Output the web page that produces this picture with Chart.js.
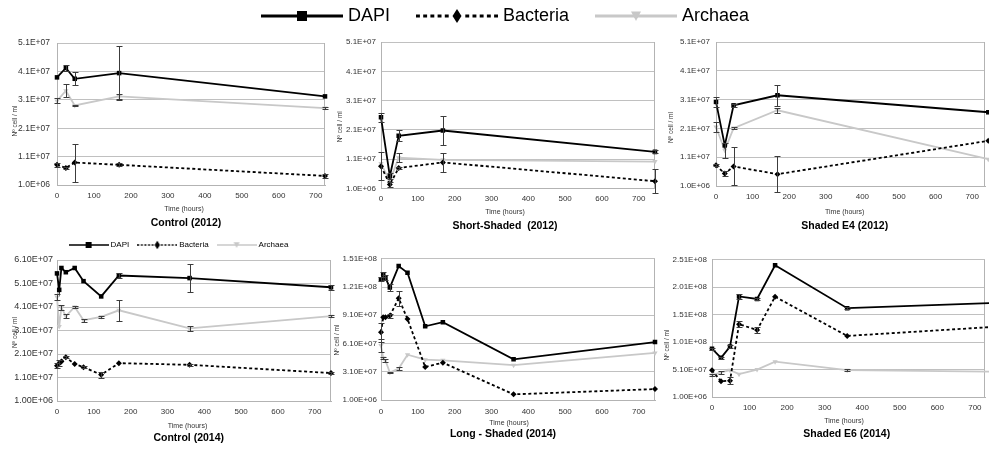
<!DOCTYPE html>
<html><head><meta charset="utf-8">
<script src="https://cdn.jsdelivr.net/npm/chart.js@4.4.1/dist/chart.umd.min.js"></script>
<style>
html,body{margin:0;padding:0;background:#fff;width:989px;height:452px;overflow:hidden;position:relative;}
canvas{position:absolute;}
</style></head><body>
<canvas id="legendTop"></canvas>
<canvas id="legendD"></canvas>
<canvas id="pA"></canvas><canvas id="pB"></canvas><canvas id="pC"></canvas>
<canvas id="pD"></canvas><canvas id="pE"></canvas><canvas id="pF"></canvas>
<script>
// ---------------- DATA ----------------
const seriesNames = ['DAPI', 'Bacteria', 'Archaea'];
const panelTitles = ['Control (2012)', 'Short-Shaded  (2012)', 'Shaded E4 (2012)',
                     'Control (2014)', 'Long - Shaded (2014)', 'Shaded E6 (2014)'];
const xAxisTitle = 'Time (hours)';
const yAxisTitle = 'Nº cell / ml';

const xTickVals = [0, 100, 200, 300, 400, 500, 600, 700];
const xTickLabels = ['0', '100', '200', '300', '400', '500', '600', '700'];
const yTickVals2012 = [1e6, 1.1e7, 2.1e7, 3.1e7, 4.1e7, 5.1e7];
const yTickLabels2012 = ['1.0E+06', '1.1E+07', '2.1E+07', '3.1E+07', '4.1E+07', '5.1E+07'];
const yTickValsCtl14 = [1e6, 1.1e7, 2.1e7, 3.1e7, 4.1e7, 5.1e7, 6.1e7];
const yTickLabelsCtl14 = ['1.00E+06', '1.10E+07', '2.10E+07', '3.10E+07', '4.10E+07', '5.10E+07', '6.10E+07'];
const yTickValsLS14 = [1e6, 3.1e7, 6.1e7, 9.1e7, 1.21e8, 1.51e8];
const yTickLabelsLS14 = ['1.00E+06', '3.10E+07', '6.10E+07', '9.10E+07', '1.21E+08', '1.51E+08'];
const yTickValsE6 = [1e6, 5.1e7, 1.01e8, 1.51e8, 2.01e8, 2.51e8];
const yTickLabelsE6 = ['1.00E+06', '5.10E+07', '1.01E+08', '1.51E+08', '2.01E+08', '2.51E+08'];

// Control (2012)
const hoursCtl12 = [0, 24, 48, 168, 725];
const dapiCtl12 = [3.89e7, 4.22e7, 3.84e7, 4.04e7, 3.22e7];
const dapiCtl12Err = [0, 1.0e6, 2.3e6, 9.6e6, 0];
const bactCtl12 = [8.1e6, 7.0e6, 8.9e6, 8.1e6, 4.2e6];
const bactCtl12Err = [6e5, 5e5, 6.7e6, 5e5, 8e5];
const archCtl12 = [3.06e7, 3.42e7, 2.9e7, 3.22e7, 2.81e7];
const archCtl12Err = [9e5, 2.3e6, 3e5, 1e6, 3e5];

// Short-Shaded (2012)
const hoursSS12 = [0, 24, 48, 168, 744];
const dapiSS12 = [2.53e7, 5.2e6, 1.9e7, 2.08e7, 1.35e7];
const dapiSS12Err = [1.6e6, 1e6, 1.9e6, 4.9e6, 5e5];
const bactSS12 = [8.6e6, 2.4e6, 8.0e6, 9.9e6, 3.5e6];
const bactSS12Err = [4.8e6, 8e5, 5e5, 3.2e6, 4e6];
const archSS12 = [9.5e6, 3.5e6, 1.15e7, 1.08e7, 1.02e7];
const archSS12Err = [0, 0, 1.5e6, 0, 0];

// Shaded E4 (2012)
const hoursE4 = [0, 24, 48, 168, 744];
const dapiE4 = [3.02e7, 1.51e7, 2.9e7, 3.25e7, 2.66e7];
const dapiE4Err = [1.6e6, 0, 5e5, 3.6e6, 0];
const bactE4 = [8.2e6, 5.3e6, 7.8e6, 5.1e6, 1.67e7];
const bactE4Err = [3e5, 8e5, 6.6e6, 6.2e6, 0];
const archE4 = [2.15e7, 1.34e7, 2.11e7, 2.73e7, 1.03e7];
const archE4Err = [1.8e6, 2.7e6, 3e5, 8e5, 8e5];

// Control (2014)
const hoursCtl14 = [0, 6, 12, 24, 48, 72, 120, 168, 360, 744];
const dapiCtl14 = [5.53e7, 4.83e7, 5.76e7, 5.58e7, 5.76e7, 5.2e7, 4.55e7, 5.44e7, 5.33e7, 4.94e7];
const dapiCtl14Err = [0, 0, 0, 0, 0, 0, 0, 1.2e6, 6.1e6, 1e6];
const bactCtl14 = [1.6e7, 1.7e7, 1.78e7, 1.96e7, 1.67e7, 1.54e7, 1.22e7, 1.71e7, 1.64e7, 1.29e7];
const bactCtl14Err = [1e6, 1.3e6, 0, 5e5, 0, 5e5, 1.2e6, 0, 5e5, 5e5];
const archCtl14 = [4.53e7, 3.27e7, 4.08e7, 3.71e7, 4.1e7, 3.54e7, 3.68e7, 3.96e7, 3.19e7, 3.71e7];
const archCtl14Err = [1.3e6, 0, 1.2e6, 8e5, 5e5, 7e5, 5e5, 4.4e6, 1.2e6, 3e5];

// Long - Shaded (2014)
const hoursLS14 = [0, 6, 12, 24, 48, 72, 120, 168, 360, 744];
const dapiLS14 = [1.292e8, 1.345e8, 1.31e8, 1.204e8, 1.433e8, 1.362e8, 7.93e7, 8.36e7, 4.42e7, 6.25e7];
const dapiLS14Err = [2e6, 3e6, 3e6, 4e6, 0, 0, 0, 0, 0, 0];
const bactLS14 = [7.3e7, 8.88e7, 8.88e7, 9.05e7, 1.09e8, 8.7e7, 3.61e7, 4.07e7, 7e6, 1.26e7];
const bactLS14Err = [1e7, 0, 0, 2e6, 7.7e6, 0, 0, 0, 0, 0];
const archLS14 = [5.9e7, 4.56e7, 4.3e7, 3.02e7, 3.44e7, 4.91e7, 4.38e7, 4.32e7, 3.8e7, 5.1e7];
const archLS14Err = [7e6, 1.5e6, 1.5e6, 1e6, 2e6, 0, 0, 0, 0, 0];

// Shaded E6 (2014)
const hoursE6 = [0, 24, 48, 72, 120, 168, 360, 744];
const dapiE6 = [8.9e7, 7.24e7, 9.3e7, 1.843e8, 1.796e8, 2.41e8, 1.629e8, 1.722e8];
const dapiE6Err = [2e6, 2e6, 2e6, 4e6, 2e6, 0, 2e6, 0];
const bactE6 = [4.98e7, 2.96e7, 3.08e7, 1.337e8, 1.23e8, 1.837e8, 1.123e8, 1.285e8];
const bactE6Err = [0, 0, 6e6, 6e6, 5e6, 0, 0, 0];
const archE6 = [4.09e7, 4.57e7, 4.98e7, 4.26e7, 5.1e7, 6.53e7, 4.98e7, 4.72e7];
const archE6Err = [2e6, 3e6, 0, 0, 0, 0, 2e6, 0];

// ---------------- STYLE / HELPERS ----------------
const FAM = "'Liberation Sans', Arial, sans-serif";
const GRID = '#c0c0c0';
const AXIS = '#b3b3b3';
const ARCH_COL = '#c8c8c8';

function makeDatasets(hours, dapi, dapiErr, bact, bactErr, arch, archErr) {
  const pts = v => hours.map((h, i) => ({x: h, y: v[i]}));
  return [
    {label: seriesNames[0], data: pts(dapi), errors: dapiErr, borderColor: '#000', backgroundColor: '#000',
     borderWidth: 1.8, pointStyle: 'rect', pointRadius: 3.2, pointBorderWidth: 0, pointBackgroundColor: '#000', clip: 6},
    {label: seriesNames[1], data: pts(bact), errors: bactErr, borderColor: '#000', backgroundColor: '#000',
     borderDash: [3, 2.5], borderWidth: 1.8, pointStyle: 'rectRot', pointRadius: 3, pointBorderWidth: 0, pointBackgroundColor: '#000', clip: 6},
    {label: seriesNames[2], data: pts(arch), errors: archErr, borderColor: ARCH_COL, backgroundColor: ARCH_COL,
     borderWidth: 1.8, pointStyle: 'triangle', pointRotation: 180, pointRadius: 3, pointBorderWidth: 0, pointBackgroundColor: ARCH_COL, clip: 6}
  ];
}

const framePlugin = {
  id: 'frame',
  beforeDatasetsDraw(chart) {
    const {ctx, chartArea: a} = chart;
    ctx.save();
    ctx.strokeStyle = AXIS; ctx.lineWidth = 1;
    ctx.beginPath();
    ctx.moveTo(Math.round(a.right) - 0.5, a.top); ctx.lineTo(Math.round(a.right) - 0.5, a.bottom);
    ctx.stroke();
    ctx.restore();
  }
};

const errorBarPlugin = {
  id: 'errorBars',
  afterDatasetsDraw(chart) {
    const {ctx} = chart;
    const xS = chart.scales.x, yS = chart.scales.y;
    ctx.save();
    ctx.strokeStyle = '#3c3c3c'; ctx.lineWidth = 1;
    chart.data.datasets.forEach(ds => {
      if (!ds.errors) return;
      ds.data.forEach((p, i) => {
        const e = ds.errors[i];
        if (!e || p.x > xS.max) return;
        const x = Math.round(xS.getPixelForValue(p.x)) + 0.5;
        const y1 = Math.round(yS.getPixelForValue(p.y + e)) + 0.5;
        const y2 = Math.round(yS.getPixelForValue(p.y - e)) + 0.5;
        ctx.beginPath();
        ctx.moveTo(x, y1); ctx.lineTo(x, y2);
        ctx.moveTo(x - 3, y1); ctx.lineTo(x + 3, y1);
        ctx.moveTo(x - 3, y2); ctx.lineTo(x + 3, y2);
        ctx.stroke();
      });
    });
    ctx.restore();
  }
};

const panelTextPlugin = {
  id: 'panelText',
  afterDraw(chart, args, o) {
    const {ctx} = chart;
    ctx.save();
    ctx.textAlign = 'center'; ctx.textBaseline = 'middle';
    ctx.fillStyle = '#333';
    ctx.font = o.timeSize + 'px ' + FAM;
    ctx.fillText(xAxisTitle, o.timeX, o.timeY);
    ctx.fillStyle = '#000';
    ctx.font = 'bold ' + o.titleSize + 'px ' + FAM;
    ctx.fillText(o.title, o.titleX, o.titleY);
    ctx.translate(o.yTitleX, o.yTitleY);
    ctx.rotate(-Math.PI / 2);
    ctx.fillStyle = '#333';
    ctx.font = o.ySize + 'px ' + FAM;
    ctx.fillText(yAxisTitle, 0, 0);
    ctx.restore();
  }
};

function makePanel(id, p) {
  const el = document.getElementById(id);
  const xH = 40;
  const H = Math.round(p.area.b - p.box.top + 46);
  el.width = p.box.width; el.height = H;
  el.style.left = p.box.left + 'px'; el.style.top = p.box.top + 'px';
  const L = p.box.left, T = p.box.top;
  new Chart(el, {
    type: 'line',
    data: {datasets: p.datasets},
    options: {
      responsive: false, animation: false, devicePixelRatio: 1, events: [],
      layout: {padding: {left: 0, top: p.area.t - T, right: L + p.box.width - p.area.r,
                         bottom: H - (p.area.b - T) - xH}},
      plugins: {
        legend: {display: false}, tooltip: {enabled: false}, title: {display: false},
        panelText: {
          title: p.title, titleX: p.titleX - L, titleY: p.titleY - T, titleSize: 10.5,
          timeX: p.timeX - L, timeY: p.timeY - T, timeSize: 7,
          yTitleX: p.yTitleX - L, yTitleY: p.yTitleY - T, ySize: 6.5
        }
      },
      scales: {
        x: {
          type: 'linear', min: 0, max: p.xMax,
          afterBuildTicks: s => { s.ticks = xTickVals.map(v => ({value: v})); },
          afterFit: s => { s.height = xH; },
          grid: {display: false, drawTicks: false},
          border: {display: true, color: AXIS, width: 1},
          ticks: {autoSkip: false, maxRotation: 0, minRotation: 0, padding: p.xPad,
                  font: {family: FAM, size: 8}, color: '#333',
                  callback: v => xTickLabels[xTickVals.indexOf(v)]}
        },
        y: {
          type: 'linear', min: p.yVals[0], max: p.yVals[p.yVals.length - 1],
          afterBuildTicks: s => { s.ticks = p.yVals.map(v => ({value: v})); },
          afterFit: s => { s.width = p.area.l - L; },
          grid: {color: GRID, lineWidth: 1, drawTicks: false},
          border: {display: true, color: AXIS, width: 1},
          ticks: {autoSkip: false, padding: p.yPad, font: {family: FAM, size: p.yFont}, color: '#333',
                  callback: v => p.yLabels[p.yVals.indexOf(v)]}
        }
      }
    },
    plugins: [framePlugin, errorBarPlugin, panelTextPlugin]
  });
}

function swatch(kind, w, h, lw, m) {
  const c = document.createElement('canvas');
  c.width = w; c.height = h;
  const g = c.getContext('2d');
  const cy = h / 2, cx = w / 2;
  g.lineWidth = lw;
  if (kind === 0) {
    g.strokeStyle = '#000'; g.fillStyle = '#000';
    g.beginPath(); g.moveTo(0, cy); g.lineTo(w, cy); g.stroke();
    g.fillRect(cx - m / 2, cy - m / 2, m, m);
  } else if (kind === 1) {
    g.strokeStyle = '#000'; g.fillStyle = '#000';
    g.setLineDash([lw * 1.3, lw * 1.1]);
    g.beginPath(); g.moveTo(0, cy); g.lineTo(cx - m / 2, cy); g.moveTo(w, cy); g.lineTo(cx + m / 2, cy); g.stroke();
    g.beginPath(); g.moveTo(cx, cy - m * 0.7); g.lineTo(cx + m * 0.45, cy); g.lineTo(cx, cy + m * 0.7); g.lineTo(cx - m * 0.45, cy); g.closePath(); g.fill();
  } else {
    g.strokeStyle = ARCH_COL; g.fillStyle = ARCH_COL;
    g.beginPath(); g.moveTo(0, cy); g.lineTo(w, cy); g.stroke();
    g.beginPath(); g.moveTo(cx - m / 2, cy - m * 0.45); g.lineTo(cx + m / 2, cy - m * 0.45); g.lineTo(cx, cy + m * 0.5); g.closePath(); g.fill();
  }
  return c;
}

function makeLegend(id, cfg) {
  const el = document.getElementById(id);
  el.width = cfg.w; el.height = cfg.h;
  el.style.left = cfg.left + 'px'; el.style.top = cfg.top + 'px';
  const imgs = [0, 1, 2].map(k => swatch(k, cfg.imgW, cfg.imgH, cfg.lw, cfg.m));
  new Chart(el, {
    type: 'line',
    data: {datasets: seriesNames.map(n => ({label: n, data: []}))},
    options: {
      responsive: false, animation: false, devicePixelRatio: 1, events: [],
      scales: {x: {display: false}, y: {display: false}},
      plugins: {
        tooltip: {enabled: false},
        legend: {
          display: true, position: 'top', align: 'center',
          labels: {
            usePointStyle: true, pointStyleWidth: cfg.boxW, boxHeight: cfg.font, padding: cfg.pad,
            font: {family: FAM, size: cfg.font}, color: '#000',
            generateLabels: () => seriesNames.map((n, i) => ({
              text: n, pointStyle: imgs[i], fillStyle: '#000', strokeStyle: '#000',
              lineWidth: 0, hidden: false, datasetIndex: i, fontColor: '#000'
            }))
          }
        }
      }
    }
  });
}

// ---------------- BUILD ----------------
makeLegend('legendTop', {w: 1014, h: 100, left: 0, top: -23, imgW: 82, imgH: 18, lw: 3, m: 10, boxW: 74, font: 18, pad: 30});
makeLegend('legendD', {w: 359, h: 60, left: 0, top: 231, imgW: 40, imgH: 10, lw: 1.5, m: 6, boxW: 36, font: 8, pad: 10});

makePanel('pA', {
  box: {left: 0, top: 30, width: 335}, area: {l: 57, t: 43, r: 325, b: 185}, xMax: 725,
  yVals: yTickVals2012, yLabels: yTickLabels2012, yFont: 8.5, yPad: 7, xPad: 6,
  title: panelTitles[0], titleX: 186, titleY: 223, timeX: 184, timeY: 209, yTitleX: 15, yTitleY: 121,
  datasets: makeDatasets(hoursCtl12, dapiCtl12, dapiCtl12Err, bactCtl12, bactCtl12Err, archCtl12, archCtl12Err)
});
makePanel('pB', {
  box: {left: 335, top: 30, width: 325}, area: {l: 381, t: 42, r: 655, b: 188.5}, xMax: 744,
  yVals: yTickVals2012, yLabels: yTickLabels2012, yFont: 8, yPad: 5, xPad: 5,
  title: panelTitles[1], titleX: 505, titleY: 225.7, timeX: 505, timeY: 211.7, yTitleX: 340.7, yTitleY: 126.7,
  datasets: makeDatasets(hoursSS12, dapiSS12, dapiSS12Err, bactSS12, bactSS12Err, archSS12, archSS12Err)
});
makePanel('pC', {
  box: {left: 660, top: 30, width: 329}, area: {l: 716, t: 42, r: 989, b: 186}, xMax: 735,
  yVals: yTickVals2012, yLabels: yTickLabels2012, yFont: 8, yPad: 6, xPad: 6,
  title: panelTitles[2], titleX: 844.7, titleY: 225.7, timeX: 844.7, timeY: 211.7, yTitleX: 671.7, yTitleY: 127.5,
  datasets: makeDatasets(hoursE4, dapiE4, dapiE4Err, bactE4, bactE4Err, archE4, archE4Err)
});
makePanel('pD', {
  box: {left: 0, top: 250, width: 340}, area: {l: 57, t: 260, r: 331, b: 401}, xMax: 744,
  yVals: yTickValsCtl14, yLabels: yTickLabelsCtl14, yFont: 9, yPad: 4, xPad: 6,
  title: panelTitles[3], titleX: 188.7, titleY: 438.3, timeX: 187.5, timeY: 425.7, yTitleX: 15, yTitleY: 332.5,
  datasets: makeDatasets(hoursCtl14, dapiCtl14, dapiCtl14Err, bactCtl14, bactCtl14Err, archCtl14, archCtl14Err)
});
makePanel('pE', {
  box: {left: 330, top: 250, width: 330}, area: {l: 381, t: 258, r: 655, b: 400}, xMax: 744,
  yVals: yTickValsLS14, yLabels: yTickLabelsLS14, yFont: 8, yPad: 4, xPad: 7,
  title: panelTitles[4], titleX: 503, titleY: 434.3, timeX: 509, timeY: 423.3, yTitleX: 337.3, yTitleY: 340,
  datasets: makeDatasets(hoursLS14, dapiLS14, dapiLS14Err, bactLS14, bactLS14Err, archLS14, archLS14Err)
});
makePanel('pF', {
  box: {left: 660, top: 250, width: 329}, area: {l: 712, t: 257, r: 989, b: 397}, xMax: 727,
  yVals: yTickValsE6, yLabels: yTickLabelsE6, yFont: 8, yPad: 5, xPad: 6,
  title: panelTitles[5], titleX: 846.7, titleY: 434.3, timeX: 844, timeY: 421, yTitleX: 667.3, yTitleY: 345,
  datasets: makeDatasets(hoursE6, dapiE6, dapiE6Err, bactE6, bactE6Err, archE6, archE6Err)
});
</script>
</body></html>
